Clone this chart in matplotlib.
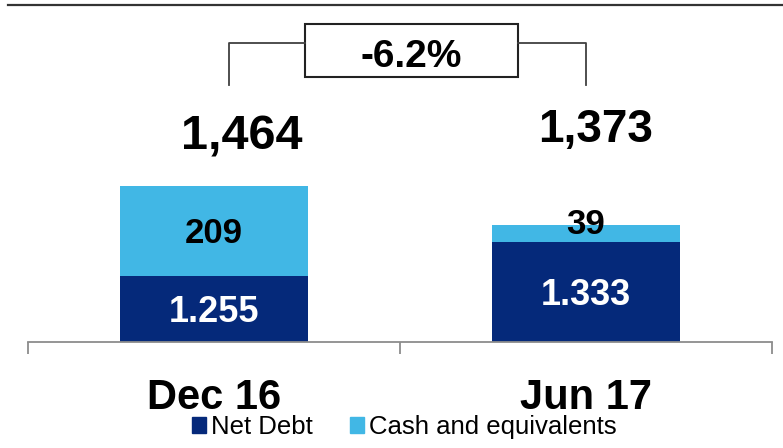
import numpy as np
import matplotlib
matplotlib.use("Agg")
import matplotlib.pyplot as plt
from matplotlib.patches import Patch, Rectangle
from matplotlib.lines import Line2D

plt.rcParams['font.family'] = ['Liberation Sans', 'DejaVu Sans']

# data
categories = ['Dec 16', 'Jun 17']
net_debt = [1255, 1333]
cash = [209, 39]
totals = [1464, 1373]
change = '-6.2%'
# the original slide is not drawn to scale, these are the segment heights as drawn
net_debt_drawn = [66, 100]
cash_drawn = [90, 17]

navy = '#05297A'
light = '#41B7E5'

fig = plt.figure(figsize=(7.83, 4.48), dpi=100)
W, H = 783, 448
ax = fig.add_axes([28 / W, (H - 342) / H, 744 / W, 342 / H])
ax.set_xlim(-0.5, 1.5)
ax.set_ylim(0, 342)

x = np.arange(len(categories))
ax.bar(x, net_debt_drawn, width=0.505, color=navy)
ax.bar(x, cash_drawn, bottom=net_debt_drawn, width=0.505, color=light)

# segment labels, centred on the cap height
def seg_label(xi, yc, txt, color, size, va_mode='cap'):
    off = -0.716 * size / 2 if va_mode == 'cap' else 0
    ax.annotate(txt, (xi, yc), xytext=(0, off), textcoords='offset points',
                ha='center', va='baseline', fontsize=size, fontweight='bold',
                color=color, annotation_clip=False)

for i in range(len(categories)):
    nd = net_debt_drawn[i]
    cd = cash_drawn[i]
    seg_label(x[i], nd / 2, f"{net_debt[i]:,}".replace(',', '.'), 'white', 26)
    if cd > 30:
        seg_label(x[i], nd + cd / 2, f"{cash[i]}", 'black', 25)
    else:
        seg_label(x[i], nd + cd / 2, f"{cash[i]}", 'black', 25, va_mode='base')

# totals above the bars
total_x = [0.075, 1.027]
total_y = [193, 200]
total_size = [35, 33]
for i in range(len(categories)):
    ax.text(total_x[i], total_y[i], f"{totals[i]:,}", ha='center', va='baseline',
            fontsize=total_size[i], fontweight='bold', clip_on=False)

# bracket with change box
ax.plot([0.04, 0.04, 0.245], [257, 299, 299], color='#404040', lw=1.3, clip_on=False)
ax.plot([0.817, 1.0, 1.0], [299, 299, 257], color='#404040', lw=1.3, clip_on=False)
ax.add_patch(Rectangle((0.245, 265), 0.572, 53, fill=False, edgecolor='#222222',
                       lw=1.5, clip_on=False))
ax.text(0.53, 275, change, ha='center', va='baseline', fontsize=28,
        fontweight='bold', clip_on=False)

# category labels
for i, c in enumerate(categories):
    ax.text(x[i], -67, c, ha='center', va='baseline', fontsize=30,
            fontweight='bold', clip_on=False)

# axis
for s in ['top', 'right', 'left']:
    ax.spines[s].set_visible(False)
ax.spines['bottom'].set_color('#8C8C8C')
ax.spines['bottom'].set_linewidth(1.3)
ax.set_yticks([])
ax.set_xticks([-0.5, 0.5, 1.5])
ax.set_xticklabels([])
ax.tick_params(axis='x', direction='out', length=8.6, width=1.3, color='#8C8C8C')

# top rule
fig.add_artist(Line2D([8 / W, 1], [1 - 5 / H, 1 - 5 / H], color='#333333', lw=1.6))

handles = [Patch(color=navy), Patch(color=light)]
fig.legend(handles, ['Net Debt', 'Cash and equivalents'], loc='center',
           bbox_to_anchor=(404.5 / W, 1 - 427 / H), ncol=2, frameon=False,
           fontsize=18.5, handlelength=0.55, handleheight=0.55,
           handletextpad=0.2, columnspacing=1.45, borderpad=0)

fig.savefig('out.png', dpi=100)
